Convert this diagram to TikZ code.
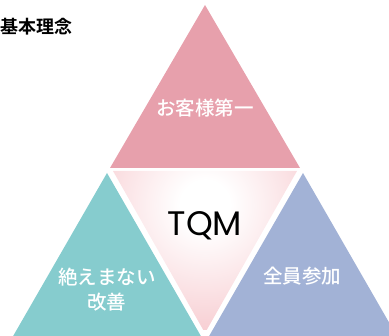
\documentclass[tikz,border=0pt]{standalone}
\usepackage{fontspec}
\setmainfont{Noto Sans CJK JP}[BoldFont={Noto Sans CJK JP Bold}]
\newfontfamily\jpmed{Noto Sans CJK JP Medium}
\newfontfamily\tqmfont{Poppins}
\definecolor{topc}{RGB}{231,160,172}
\definecolor{leftc}{RGB}{134,204,206}
\definecolor{rightc}{RGB}{162,178,214}
\definecolor{centc}{RGB}{243,176,183}
\pgfdeclareradialshading{tqmshade}{\pgfpoint{0bp}{0bp}}{color(0bp)=(white); color(5bp)=(white); color(38bp)=(centc); color(50bp)=(centc)}
\begin{document}
\begin{tikzpicture}[x=1pt,y=-1pt,
  wlabel/.style={text=white,font=\jpmed\fontsize{19.5}{25}\selectfont,align=center,inner sep=0pt},
]
\useasboundingbox (0,0) rectangle (389,336);
\begin{scope}
\clip (0,0) rectangle (389,336);
\fill[topc] (205,5) -- (110,168) -- (300,168) -- cycle;
\fill[leftc] (107,173) -- (12,338) -- (202,338) -- cycle;
\fill[rightc] (303,173) -- (208,338) -- (398,338) -- cycle;
\begin{scope}
\clip (113,171) -- (297,171) -- (205,333) -- cycle;
\shade[shading=tqmshade] (205,205) circle (125);
\end{scope}
\end{scope}
\node[anchor=west,inner sep=0pt,font=\bfseries\fontsize{18}{22}\selectfont] (title) at (0,27) {基本理念};
\node[wlabel] (top) at (205,108) {お客様第一};
\node[inner sep=0pt,font=\tqmfont\fontsize{34}{38}\selectfont] (tqm) at (205,226) {TQM};
\node[wlabel] (left) at (107,290) {絶えまない\\改善};
\node[wlabel] (right) at (302,276) {全員参加};
\end{tikzpicture}
\end{document}
